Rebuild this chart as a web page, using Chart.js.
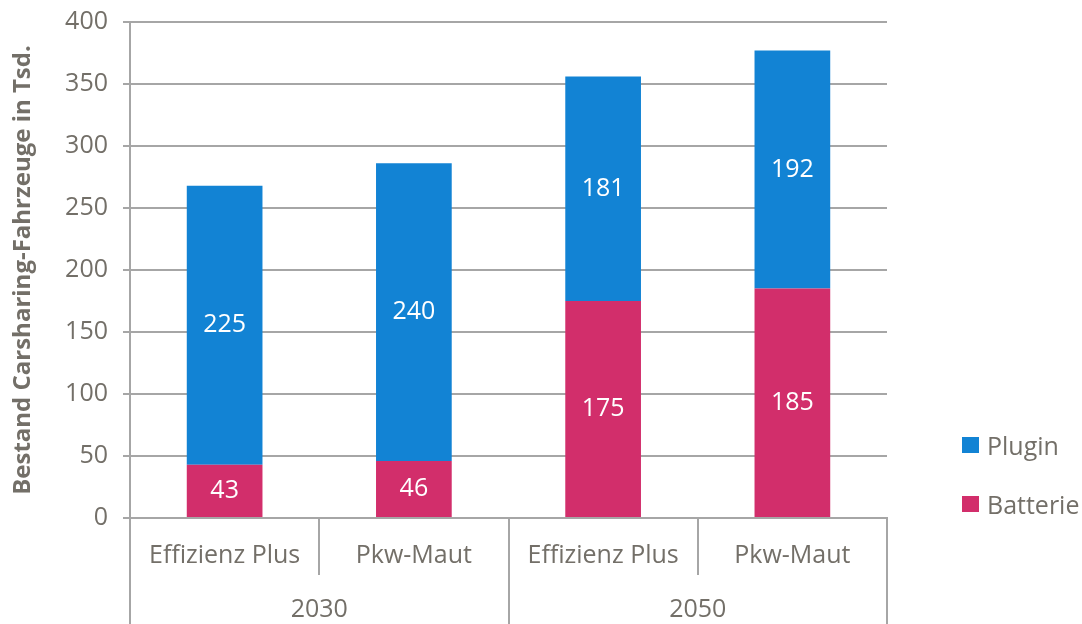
<!DOCTYPE html>
<html>
<head>
<meta charset="utf-8">
<script src="https://cdn.jsdelivr.net/npm/chart.js@4/dist/chart.umd.min.js"></script>
<style>
  body { margin: 0; background: #fff; }
  #wrap { position: relative; width: 1082px; height: 624px; }
  #legend { position: absolute; left: 962px; top: 0; font: 25px "Open Sans", sans-serif; color: #736F68; }
  .item { position: absolute; left: 0; display: flex; align-items: center; height: 30px; white-space: nowrap; }
  .box { width: 17px; height: 16px; margin-right: 8px; }
</style>
</head>
<body>
<div id="wrap">
  <canvas id="fleetChart"></canvas>
  <div id="legend"></div>
</div>
<script>
const scenarios = ['Effizienz Plus', 'Pkw-Maut', 'Effizienz Plus', 'Pkw-Maut'];
const years = ['2030', '2050'];
const batterie = [43, 46, 175, 185];
const plugin = [225, 240, 181, 192];
const yTicks = { min: 0, max: 400, step: 50 };

const textColor = '#736F68';
const lineColor = '#A6A6A6';
const font = { family: '"Open Sans", sans-serif', size: 25 };

// white value labels in the middle of each segment
const barLabels = {
  id: 'barLabels',
  afterDatasetsDraw(chart) {
    const ctx = chart.ctx;
    ctx.save();
    ctx.font = '25px "Open Sans", sans-serif';
    ctx.fillStyle = '#fff';
    ctx.textAlign = 'center';
    ctx.textBaseline = 'middle';
    chart.data.datasets.forEach((ds, i) => {
      chart.getDatasetMeta(i).data.forEach((bar, j) => {
        ctx.fillText(ds.data[j], bar.x, (bar.y + bar.base) / 2);
      });
    });
    ctx.restore();
  }
};

const chart = new Chart(document.getElementById('fleetChart'), {
  type: 'bar',
  data: {
    labels: scenarios,
    datasets: [
      {
        label: 'Batterie',
        data: batterie,
        backgroundColor: '#D22E6B'
      },
      {
        label: 'Plugin',
        data: plugin,
        backgroundColor: '#1283D4'
      }
    ]
  },
  options: {
    responsive: true,
    maintainAspectRatio: false,
    animation: false,
    layout: { padding: { top: 22, right: 195, left: 0, bottom: 0 } },
    datasets: { bar: { categoryPercentage: 1, barPercentage: 0.4 } },
    plugins: {
      legend: { display: false },
      tooltip: { enabled: false }
    },
    scales: {
      // scenario row, separators run down to the year row
      x: {
        stacked: true,
        grid: { drawOnChartArea: false, color: lineColor, lineWidth: 2, tickLength: 57 },
        border: { color: lineColor, width: 2 },
        ticks: { color: textColor, font: font, padding: -34, maxRotation: 0 },
        afterFit: scale => { scale.height = 57; }
      },
      // year row
      x2: {
        type: 'category',
        labels: years,
        position: 'bottom',
        offset: true,
        grid: { offset: true, drawOnChartArea: false, color: lineColor, lineWidth: 2, tickLength: 49 },
        border: { display: false },
        ticks: { color: textColor, font: font, padding: -29, maxRotation: 0 },
        afterFit: scale => { scale.height = 49; }
      },
      y: {
        stacked: true,
        min: yTicks.min,
        max: yTicks.max,
        grid: { color: lineColor, lineWidth: 2, tickLength: 7 },
        border: { color: lineColor, width: 2 },
        ticks: { stepSize: yTicks.step, color: textColor, font: font, padding: 15 },
        title: {
          display: true,
          text: 'Bestand Carsharing-Fahrzeuge in Tsd.',
          color: textColor,
          font: { family: '"Open Sans", sans-serif', size: 24, weight: 'bold' },
          padding: { top: 9, bottom: 0 }
        },
        afterFit: scale => {
          scale.width = 130;
          scale.paddingTop = 0;
        }
      }
    }
  },
  plugins: [barLabels]
});

// legend to the right of the plot, Plugin above Batterie
const legendEl = document.getElementById('legend');
const legendTops = [430, 489];
chart.data.datasets.slice().reverse().forEach((ds, i) => {
  const item = document.createElement('div');
  item.className = 'item';
  item.style.top = legendTops[i] + 'px';
  item.innerHTML = '<span class="box" style="background:' + ds.backgroundColor + '"></span>' + ds.label;
  legendEl.appendChild(item);
});
</script>
</body>
</html>
